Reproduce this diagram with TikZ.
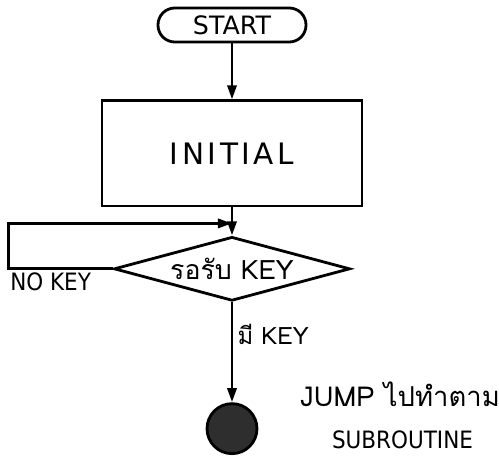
\documentclass[tikz,border=0pt]{standalone}
\usepackage{fontspec}
\setmainfont{DejaVu Sans}
\newfontfamily\condfont{DejaVu Sans Condensed}
\newfontfamily\thaifont[Script=Thai]{Loma}
\usepackage{tikz}
\usetikzlibrary{shapes.geometric, arrows.meta, positioning, calc}

\begin{document}
\begin{tikzpicture}[
    node distance=0.5cm,
    term/.style={rectangle, rounded corners=0.42cm, draw, line width=2pt,
                 minimum width=3.7cm, minimum height=0.85cm,
                 font=\fontsize{18}{21}\selectfont},
    proc/.style={rectangle, draw, line width=2pt,
                 minimum width=6.5cm, minimum height=2.63cm,
                 font=\fontsize{21}{24}\selectfont\addfontfeature{LetterSpace=12}},
    decide/.style={diamond, draw, line width=2pt, shape aspect=3.7,
                   minimum width=5.9cm, minimum height=1.6cm, inner sep=0pt,
                   font=\thaifont\fontsize{19}{22}\selectfont},
    conn/.style={circle, draw, line width=2pt, fill=black!82,
                 minimum size=1.25cm, inner sep=0pt},
    note/.style={inner sep=1pt, font=\condfont\fontsize{17}{20}\selectfont},
    arr/.style={-{Triangle[length=10pt, width=6.5pt]}, line width=2pt},
]

\useasboundingbox (-5.8,0.625) rectangle (6.675,-11.075);

\node[term] (start) at (0,0) {START};
\node[proc, below=1.4cm of start] (init) {INITIAL};
\node[decide, below=0.7cm of init] (test) {รอรับ KEY};
\node[conn, below=2.5cm of test] (goto) {};
\coordinate[below=0.4cm of init.south] (join);

\draw[arr] (start) -- (init);
\draw[arr] (init) -- (test);
\draw[arr] (test.west) -- ++(-2.6,0) coordinate (nk) |- (join);
\node[note, anchor=north west, yshift=-1.5pt] (nokey) at (nk) {NO KEY};
\draw[arr] (test) -- node[note, right, pos=0.32, xshift=2pt, font=\thaifont\fontsize{17}{20}\selectfont] (haskey) {มี KEY} (goto);

% where the jump goes
\node[note, above right=0.5cm and 1.0cm of goto.east, anchor=south west,
      font=\thaifont\fontsize{19.5}{22}\selectfont] (jump) {JUMP ไปทำตาม};
\node[note, below right=0.5cm and 0.8cm of jump.south west] (sub) {SUBROUTINE};

\end{tikzpicture}
\end{document}
